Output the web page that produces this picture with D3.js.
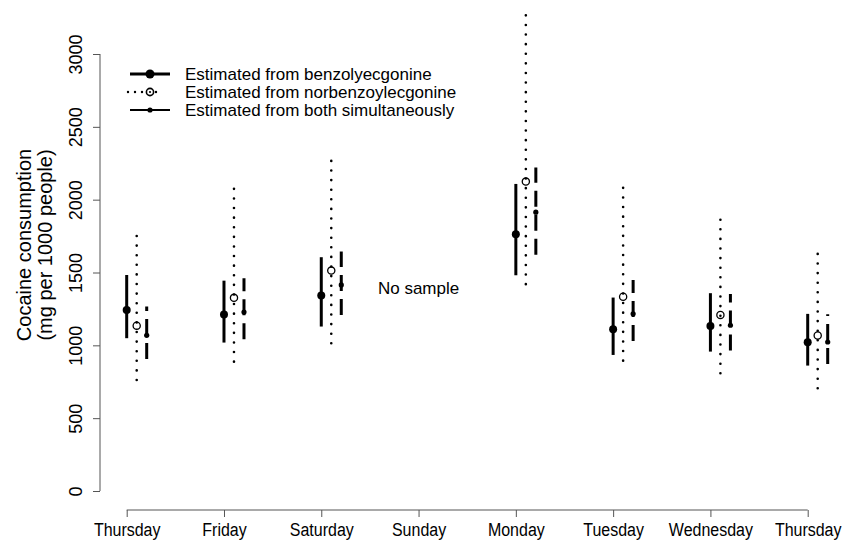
<!DOCTYPE html>
<html>
<head>
<meta charset="utf-8">
<script src="https://cdn.jsdelivr.net/npm/d3@7"></script>
<style>
  body { margin: 0; background: #fff; }
  text { font-family: "Liberation Sans", Arial, Helvetica, sans-serif; fill: #000; }
</style>
</head>
<body>
<div id="chart"></div>
<script>
// days on the x axis (Thursday twice, so index based)
var days = ["Thursday", "Friday", "Saturday", "Sunday", "Monday", "Tuesday", "Wednesday", "Thursday"];
var yTicks = [0, 500, 1000, 1500, 2000, 2500, 3000];

// benzoylecgonine
var benzoEst  = [1243, 1211, 1342, null, 1763, 1110, 1133, 1021];
var benzoLow  = [1049, 1019, 1129, null, 1481,  934,  957,  861];
var benzoHigh = [1483, 1444, 1605, null, 2108, 1328, 1358, 1216];
// norbenzoylecgonine
var norEst  = [1135, 1326, 1513, null, 2124, 1334, 1209, 1067];
var norLow  = [ 762,  888, 1014, null, 1420,  895,  808,  705];
var norHigh = [1751, 2079, 2330, null, 3271, 2086, 1866, 1633];
// both simultaneously
var bothEst  = [1069, 1229, 1415, null, 1914, 1216, 1138, 1023];
var bothLow  = [ 907, 1042, 1209, null, 1621, 1030,  964,  872];
var bothHigh = [1266, 1461, 1644, null, 2220, 1449, 1353, 1214];

var legendLabels = ["Estimated from benzolyecgonine", "Estimated from norbenzoylecgonine", "Estimated from both simultaneously"];

var W = 842, H = 542;
var svg = d3.select("#chart").append("svg").attr("width", W).attr("height", H);

var x = d3.scaleLinear().domain([0, days.length - 1]).range([126.7, 807.7]);
var y = d3.scaleLinear().domain([0, 3000]).range([491, 54]);

var axisCol = "#555";

// y axis
var yAx = svg.append("g").attr("transform", "translate(100,0)")
  .call(d3.axisLeft(y).tickValues(yTicks).tickSize(7).tickFormat(d3.format("d")));
yAx.select(".domain").attr("d", "M0," + y(0) + "V" + y(3000)).attr("stroke", axisCol);
yAx.selectAll(".tick line").attr("stroke", axisCol);
yAx.selectAll(".tick text")
  .attr("font-size", 18).attr("fill", "#000")
  .attr("transform", "rotate(-90)")
  .attr("x", 0).attr("y", -18).attr("dy", 0)
  .attr("text-anchor", "middle");

// x axis
var xAx = svg.append("g").attr("transform", "translate(0,510)")
  .call(d3.axisBottom(x).tickValues(d3.range(days.length)).tickSize(7).tickFormat(function (i) { return days[i]; }));
xAx.select(".domain").attr("d", "M" + x(0) + ",0H" + x(days.length - 1)).attr("stroke", axisCol);
xAx.selectAll(".tick line").attr("stroke", axisCol);
xAx.selectAll(".tick text").attr("font-size", 16).attr("fill", "#000").attr("dy", 0)
  .attr("transform", "scale(1,1.1)").attr("y", 23.5);

// y title
var yt = svg.append("text").attr("transform", "translate(31,245) rotate(-90)")
  .attr("text-anchor", "middle").attr("font-size", 20);
yt.append("tspan").attr("x", 0).attr("y", 0).text("Cocaine consumption");
yt.append("tspan").attr("x", 0).attr("y", 21).text("(mg per 1000 people)");

// series
var series = [
  {est: benzoEst, low: benzoLow, high: benzoHigh, off: 0, width: 3, dash: null, cap: "butt"},
  {est: norEst, low: norLow, high: norHigh, off: 10, width: 2.6, dash: "0,9.6", cap: "round"},
  {est: bothEst, low: bothLow, high: bothHigh, off: 20, width: 3, dash: "16,8", cap: "butt"}
];

series.forEach(function (s, k) {
  var g = svg.append("g");
  var idx = d3.range(days.length).filter(function (i) { return s.est[i] != null; });
  g.selectAll("line").data(idx).enter().append("line")
    .attr("x1", function (i) { return x(i) + s.off; })
    .attr("x2", function (i) { return x(i) + s.off; })
    .attr("y1", function (i) { return y(s.low[i]); })
    .attr("y2", function (i) { return y(s.high[i]); })
    .attr("stroke", "#000").attr("stroke-width", s.width)
    .attr("stroke-linecap", s.cap)
    .attr("stroke-dasharray", s.dash);
  var pts = g.selectAll("circle").data(idx).enter().append("circle")
    .attr("cx", function (i) { return x(i) + s.off; })
    .attr("cy", function (i) { return y(s.est[i]); });
  if (k == 0) pts.attr("r", 4).attr("fill", "#000");
  if (k == 1) pts.attr("r", 3.6).attr("fill", "none").attr("stroke", "#000").attr("stroke-width", 1.3);
  if (k == 2) pts.attr("r", 2.6).attr("fill", "#000");
});

// no sample label
svg.append("text").attr("x", x(3)).attr("y", 294).attr("text-anchor", "middle")
  .attr("font-size", 17).text("No sample");

// legend
var leg = svg.append("g");
legendLabels.forEach(function (lab, k) {
  var ly = 74 + k * 18;
  var ln = leg.append("line").attr("x1", 130).attr("x2", 170).attr("y1", ly).attr("y2", ly)
    .attr("stroke", "#000");
  if (k == 0) { ln.attr("stroke-width", 3); leg.append("circle").attr("cx", 150).attr("cy", ly).attr("r", 4.5).attr("fill", "#000"); }
  if (k == 1) {
    ln.attr("stroke-width", 2.4).attr("stroke-dasharray", "0,7").attr("stroke-linecap", "round").attr("x1", 128).attr("x2", 163);
    leg.append("circle").attr("cx", 150).attr("cy", ly).attr("r", 3.6).attr("fill", "#fff").attr("stroke", "#000").attr("stroke-width", 1.6);
    leg.append("circle").attr("cx", 150).attr("cy", ly).attr("r", 1.1).attr("fill", "#000");
  }
  if (k == 2) { ln.attr("stroke-width", 2.2); leg.append("circle").attr("cx", 150).attr("cy", ly).attr("r", 2.6).attr("fill", "#000"); }
  leg.append("text").attr("x", 185).attr("y", ly).attr("dy", "0.35em").attr("font-size", 17).text(lab);
});
</script>
</body>
</html>
